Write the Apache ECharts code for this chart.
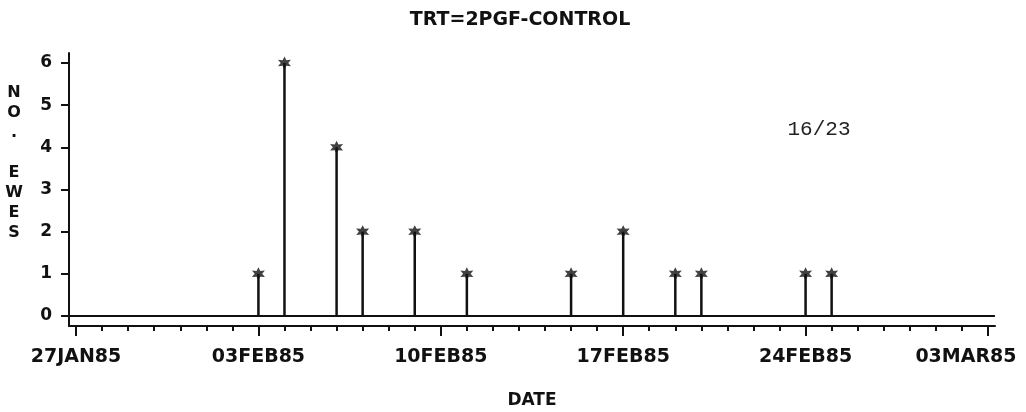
<!DOCTYPE html>
<html><head><meta charset="utf-8">
<script src="https://cdn.jsdelivr.net/npm/echarts@6/dist/echarts.min.js"></script>
<style>html,body{margin:0;padding:0;background:#fff}#c{width:1026px;height:412px}</style>
</head><body><div id="c"></div>
<script>
const chartTitle = 'TRT=2PGF-CONTROL';
const yAxisTitle = 'NO. EWES';
const xAxisTitle = 'DATE';
const pageNote = '16/23';
const startDate = '1985-01-27';
const eventDates = ['1985-02-03','1985-02-04','1985-02-06','1985-02-07','1985-02-09','1985-02-11','1985-02-15','1985-02-17','1985-02-19','1985-02-20','1985-02-24','1985-02-25'];
const eweCounts = [1,6,4,2,2,1,1,2,1,1,1,1];
const xTickLabels = ['27JAN85','03FEB85','10FEB85','17FEB85','24FEB85','03MAR85'];
const yTickValues = [0,1,2,3,4,5,6];

const DAY = 86400000;
const toDay = d => (Date.parse(d) - Date.parse(startDate)) / DAY;
const points = eventDates.map((d, i) => [toDay(d), eweCounts[i]]);
const majorTicks = xTickLabels.map((_, i) => i * 7);
const lastDay = majorTicks[majorTicks.length - 1];
const minorTicks = [];
for (let d = 0; d <= lastDay; d++) minorTicks.push(d);

function starPath() {
  let p = '';
  for (let k = 0; k < 12; k++) {
    const a = (-90 + k * 30) * Math.PI / 180;
    const r = k % 2 ? 5 : 10;
    p += (k ? 'L' : 'M') + (10 + r * Math.cos(a)).toFixed(2) + ' ' + (10 + r * Math.sin(a)).toFixed(2) + ' ';
  }
  return 'path://' + p + 'Z';
}

const INK = '#111';
const FONT = '"DejaVu Sans", sans-serif';
const gridBox = { left: 69, right: 31, top: 53, bottom: 86, outerBoundsMode: 'none', containLabel: false };
const xMin = -0.27, xMax = lastDay + 0.27;
const labelStyle = { fontSize: 19, fontWeight: 'bold', color: INK, fontFamily: FONT };

const chart = echarts.init(document.getElementById('c'), null, { renderer: 'canvas' });
chart.setOption({
  backgroundColor: '#fff',
  animation: false,
  grid: [Object.assign({}, gridBox), Object.assign({}, gridBox)],
  xAxis: [{
    type: 'value', gridIndex: 0, min: xMin, max: xMax,
    axisLine: { onZero: false, lineStyle: { color: INK, width: 2 } },
    axisTick: { customValues: majorTicks, length: 10, lineStyle: { color: INK, width: 2 } },
    axisLabel: Object.assign({
      customValues: majorTicks,
      formatter: v => {
        const i = Math.round(v / 7);
        return i === xTickLabels.length - 1 ? '{last|' + xTickLabels[i] + '}' : xTickLabels[i];
      },
      margin: 22,
      rich: { last: Object.assign({ padding: [0, 44, 0, 0] }, labelStyle) }
    }, labelStyle),
    splitLine: { show: false },
    name: xAxisTitle, nameLocation: 'middle', nameGap: 66,
    nameTextStyle: { fontSize: 17, fontWeight: 'bold', color: INK, fontFamily: FONT }
  }, {
    type: 'value', gridIndex: 1, min: xMin, max: xMax,
    axisLine: { show: false, onZero: false },
    axisTick: { customValues: minorTicks, length: 5, lineStyle: { color: INK, width: 2 } },
    axisLabel: { show: false },
    splitLine: { show: false }
  }],
  yAxis: [{
    type: 'value', gridIndex: 0, min: -0.237, max: 6.237,
    axisLine: { onZero: false, lineStyle: { color: INK, width: 2 } },
    axisTick: { customValues: yTickValues, length: 8, lineStyle: { color: INK, width: 2 } },
    axisLabel: { customValues: yTickValues, margin: 17, fontSize: 17, fontWeight: 'bold', color: INK, fontFamily: FONT },
    splitLine: { show: false }
  }, {
    type: 'value', gridIndex: 1, min: 0, max: 1, show: false
  }],
  graphic: [{
    type: 'text', x: 520, y: 20,
    style: { text: chartTitle, textAlign: 'center', textVerticalAlign: 'middle', font: 'bold 19px ' + FONT, fill: INK }
  }, {
    type: 'text', x: 14, y: 83,
    style: { text: yAxisTitle.split('').join('\n'), textAlign: 'center', textVerticalAlign: 'top', lineHeight: 20, font: 'bold 16px ' + FONT, fill: INK }
  }, {
    type: 'text', x: 819, y: 129,
    style: { text: pageNote, textAlign: 'center', textVerticalAlign: 'middle', font: '21px "Liberation Mono", monospace', fill: '#222' }
  }],
  series: [{
    type: 'bar', xAxisIndex: 0, yAxisIndex: 0, data: points, barWidth: 2.5,
    itemStyle: { color: INK },
    markLine: { silent: true, symbol: ['none', 'none'], data: [{ yAxis: 0 }],
      lineStyle: { color: INK, width: 2, type: 'solid' }, label: { show: false } }
  }, {
    type: 'scatter', xAxisIndex: 0, yAxisIndex: 0, data: points,
    symbol: starPath(), symbolSize: 13, itemStyle: { color: INK }
  }]
});
</script>
</body></html>
